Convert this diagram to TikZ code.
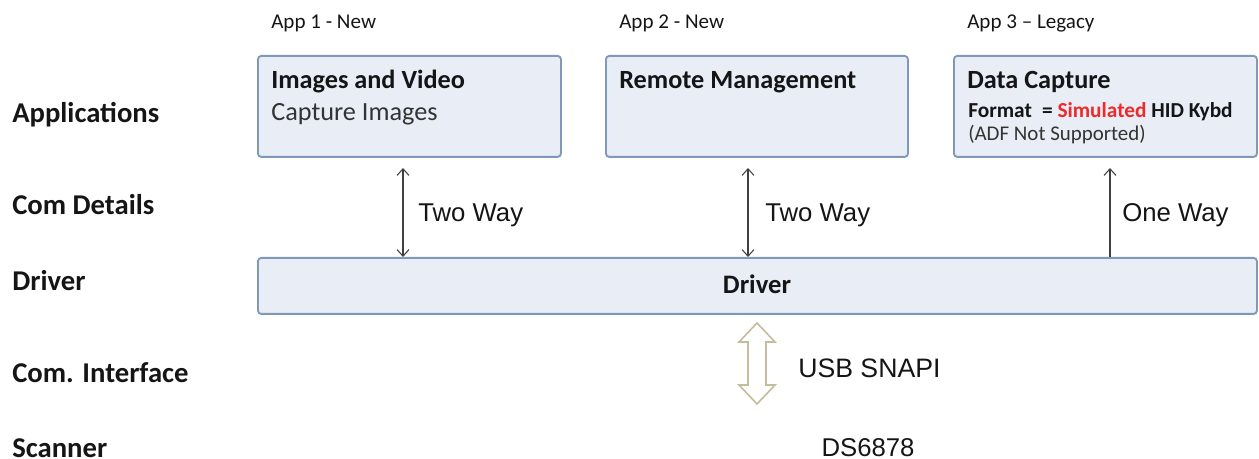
\documentclass[tikz,border=0pt]{standalone}
\usepackage{fontspec}
\setmainfont{Carlito}
\newfontfamily\arialf{Liberation Sans}
\usetikzlibrary{arrows.meta,calc}
\definecolor{boxfill}{HTML}{E9EEF6}
\definecolor{boxline}{HTML}{8099B8}
\definecolor{usbline}{HTML}{C4BC9A}
\definecolor{simred}{HTML}{EE2A2A}
\definecolor{txt}{HTML}{151515}
\definecolor{greytxt}{HTML}{333333}
\tikzset{
  appbox/.style={draw=boxline, line width=1.4pt, fill=boxfill, rounded corners=2.5pt},
  layerlabel/.style={anchor=base west, inner sep=0pt, font=\fontsize{21.5}{24}\selectfont\bfseries, text=txt},
  applabel/.style={anchor=base west, inner sep=0pt, font=\fontsize{15.8}{18}\selectfont, text=txt},
  boxtitle/.style={anchor=base west, inner sep=0pt, font=\fontsize{19.7}{22}\selectfont\bfseries, text=txt},
  boxsub/.style={anchor=base west, inner sep=0pt, font=\fontsize{19.7}{22}\selectfont, text=greytxt},
  smalltxt/.style={anchor=base west, inner sep=0pt, font=\fontsize{15.7}{18}\selectfont, text=greytxt},
  comlabel/.style={anchor=base west, inner sep=0pt, font=\arialf\fontsize{19.3}{22}\selectfont, text=txt},
  comarrow/.style={draw=black!75, line width=0.8pt},
}
\begin{document}
\begin{tikzpicture}[x=0.75pt, y=-0.75pt]
\useasboundingbox (0,0) rectangle (1259,459);
% boxes
\node[appbox, minimum width=303*0.75pt, minimum height=101*0.75pt, anchor=north west, inner sep=0pt] (app1) at (257,55) {};
\node[appbox, minimum width=302*0.75pt, minimum height=101*0.75pt, anchor=north west, inner sep=0pt] (app2) at (605,55) {};
\node[appbox, minimum width=303*0.75pt, minimum height=101*0.75pt, anchor=north west, inner sep=0pt] (app3) at (953,55) {};
\node[appbox, minimum width=999*0.75pt, minimum height=56*0.75pt, anchor=north west, inner sep=0pt] (drv) at (257,257) {};
\node[inner sep=0pt, anchor=base, font=\fontsize{20}{22}\selectfont\bfseries, text=txt] (drvtext) at (757,294) {Driver};
% layer labels
\node[layerlabel] (lapp) at (12,123) {Applications};
\node[layerlabel] (lcom) at (12,214.5) {Com Details};
\node[layerlabel] (ldrv) at (12,291) {Driver};
\node[layerlabel] (lint) at (12,382) {Com. Interface};
\node[layerlabel] (lscan) at (12,457.5) {Scanner};
% app labels
\node[applabel] (a1) at (271,29) {App 1 - New};
\node[applabel] (a2) at (619,29) {App 2 - New};
\node[applabel] (a3) at (967,29) {App 3 -- Legacy};
% box texts
\node[boxtitle] (t1) at (271,89) {Images and Video};
\node[boxsub] (s1) at (271,121) {Capture Images};
\node[boxtitle] (t2) at (619,89) {Remote Management};
\node[boxtitle] (t3) at (967,89) {Data Capture};
\node[smalltxt, font=\fontsize{16}{18}\selectfont\bfseries, text=txt] (f3) at (968,118) {Format\hspace{4pt} = \textcolor{simred}{Simulated} HID Kybd};
\node[smalltxt] (n3) at (968,141) {(ADF Not Supported)};
% connectors
\coordinate (c1t) at (403,168);
\coordinate (c2t) at (748,168);
\coordinate (c3t) at (1110,168);
\draw[comarrow, {Straight Barb[length=5pt,width=9pt]}-{Straight Barb[length=5pt,width=9pt]}] (c1t) -- (c1t |- drv.north);
\draw[comarrow, {Straight Barb[length=5pt,width=9pt]}-{Straight Barb[length=5pt,width=9pt]}] (c2t) -- (c2t |- drv.north);
\draw[comarrow, -{Straight Barb[length=5pt,width=9pt]}] (c3t |- drv.north) -- (c3t);
\node[comlabel] (w1) at (418,222) {Two Way};
\node[comlabel] (w2) at (765,222) {Two Way};
\node[comlabel] (w3) at (1122,222) {One Way};
% USB hollow double arrow
\coordinate (u) at (757,363.5);
\draw[usbline, line width=1.2pt, fill=white, line join=miter]
  ($(u)+(0,-40.5)$) -- ($(u)+(18,-21.5)$) -- ($(u)+(9,-21.5)$) -- ($(u)+(9,21.5)$) -- ($(u)+(18,21.5)$)
  -- ($(u)+(0,40.5)$) -- ($(u)+(-18,21.5)$) -- ($(u)+(-9,21.5)$) -- ($(u)+(-9,-21.5)$) -- ($(u)+(-18,-21.5)$) -- cycle;
\node[comlabel, font=\arialf\fontsize{20}{22}\selectfont] (usb) at (798,377) {USB SNAPI};
\node[comlabel, anchor=base] (ds) at (868,456) {DS6878};
\end{tikzpicture}
\end{document}
